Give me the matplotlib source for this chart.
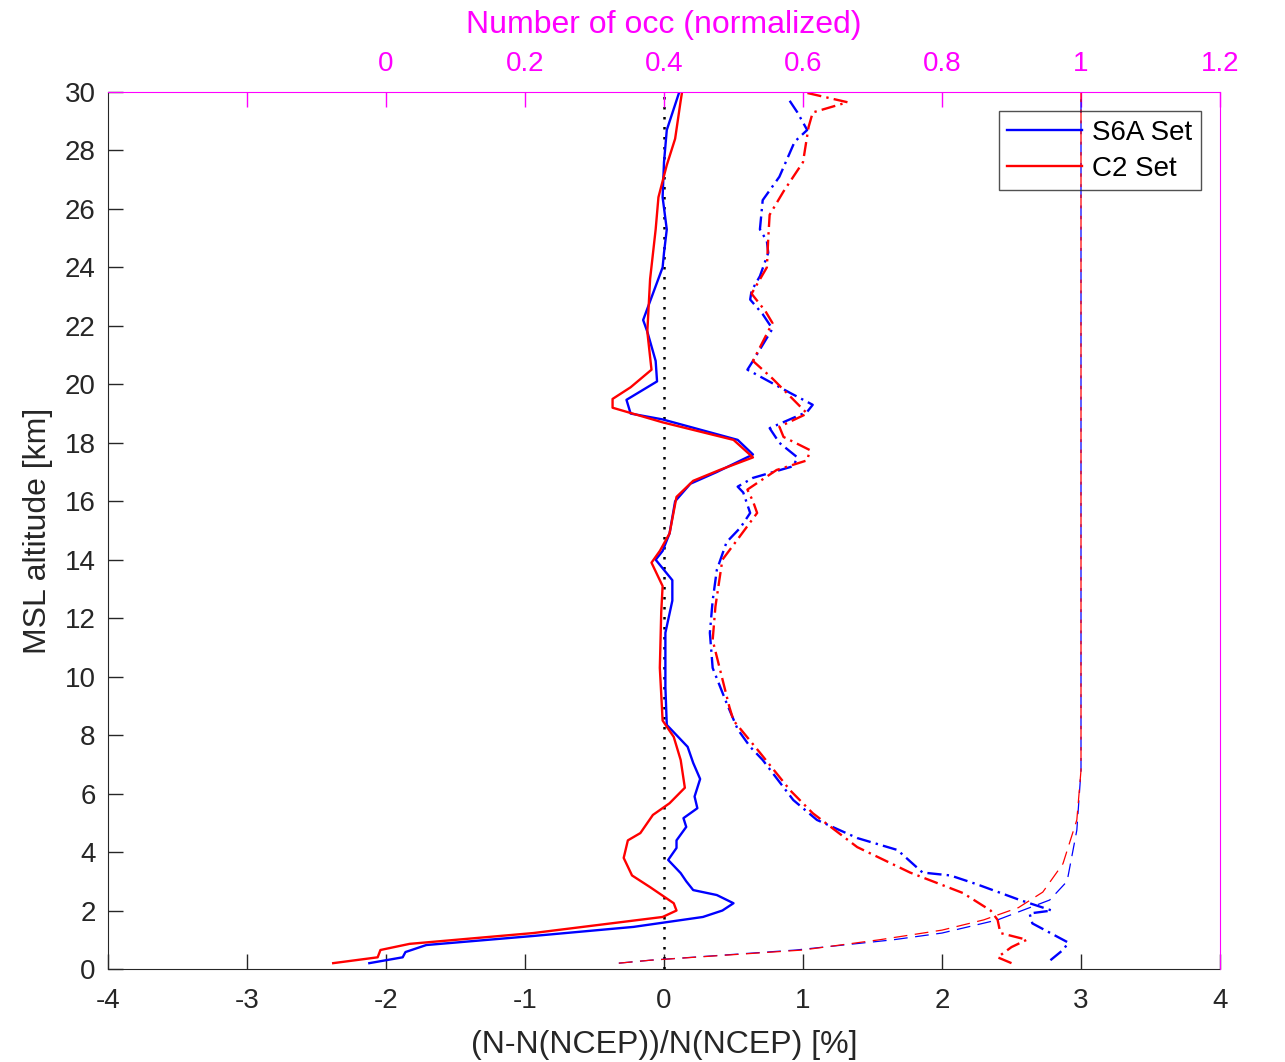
import numpy as np
import matplotlib
matplotlib.use('Agg')
import matplotlib.pyplot as plt
from matplotlib.lines import Line2D

plt.rcParams['font.family'] = ['Liberation Sans', 'DejaVu Sans']
plt.rcParams['axes.unicode_minus'] = False

# mean bias, S6A (blue solid)
s6a_alt = [0.2, 0.4, 0.58, 0.82, 1.13, 1.44, 1.78, 2.0, 2.25, 2.53, 2.7, 3.0, 3.28, 3.73, 4.14,
           4.4, 4.86, 5.16, 5.5, 5.9, 6.5, 7.05, 7.6, 8.35, 9.65, 11.5, 12.6, 13.3, 14.0, 14.3,
           14.9, 16.0, 16.6, 17.0, 17.6, 18.1, 18.8, 19.0, 19.47, 20.1, 20.8, 21.8, 22.2, 23.1,
           24.0, 24.5, 25.3, 26.4, 27.6, 28.7, 30.0]
s6a_mean = [-2.12, -1.88, -1.86, -1.71, -0.94, -0.22, 0.28, 0.42, 0.50, 0.38, 0.21, 0.16, 0.12,
            0.03, 0.09, 0.09, 0.16, 0.14, 0.24, 0.22, 0.26, 0.21, 0.17, 0.02, 0.01, 0.01, 0.06,
            0.06, -0.06, -0.01, 0.04, 0.08, 0.19, 0.38, 0.64, 0.53, -0.01, -0.24, -0.27, -0.05,
            -0.06, -0.12, -0.15, -0.08, -0.01, 0.0, 0.02, -0.01, 0.0, 0.02, 0.11]

# mean bias, C2 (red solid)
c2_alt = [0.2, 0.4, 0.65, 0.86, 1.23, 1.78, 2.0, 2.25, 2.8, 3.2, 3.8, 4.4, 4.65, 5.27, 5.67,
          6.2, 7.15, 7.94, 8.5, 10.3, 12.2, 13.1, 13.9, 14.3, 14.9, 16.15, 16.7, 17.07, 17.5,
          18.1, 18.7, 19.2, 19.5, 19.9, 20.5, 21.8, 23.6, 25.3, 26.4, 27.5, 28.4, 29.7, 30.0]
c2_mean = [-2.38, -2.06, -2.04, -1.83, -0.94, -0.01, 0.09, 0.07, -0.10, -0.23, -0.29, -0.26,
           -0.17, -0.08, 0.04, 0.15, 0.12, 0.07, -0.01, -0.03, -0.02, -0.01, -0.09, -0.03, 0.04,
           0.09, 0.21, 0.40, 0.64, 0.50, -0.01, -0.37, -0.37, -0.24, -0.09, -0.12, -0.10, -0.06,
           -0.04, 0.02, 0.08, 0.12, 0.13]

# std, S6A (blue dash-dot)
s6a_std_alt = [0.3, 0.65, 0.9, 1.56, 1.9, 2.0, 2.36, 2.9, 3.2, 3.3, 4.07, 4.48, 5.1, 5.78, 7.15,
               7.6, 8.2, 9.1, 10.3, 11.5, 12.6, 13.65, 14.6, 15.1, 15.6, 16.3, 16.5, 16.8, 17.2,
               17.5, 18.0, 18.5, 19.06, 19.3, 19.7, 20.4, 20.5, 20.8, 21.9, 22.4, 22.9, 23.2,
               23.7, 24.5, 24.9, 25.3, 26.3, 27.1, 28.3, 28.7, 29.3, 29.8]
s6a_std = [2.78, 2.87, 2.91, 2.65, 2.63, 2.79, 2.56, 2.25, 2.06, 1.86, 1.68, 1.39, 1.10, 0.93,
           0.71, 0.62, 0.53, 0.45, 0.35, 0.33, 0.35, 0.38, 0.45, 0.55, 0.62, 0.57, 0.53, 0.64,
           0.93, 0.96, 0.83, 0.76, 1.03, 1.07, 0.91, 0.64, 0.60, 0.64, 0.78, 0.71, 0.62, 0.63,
           0.69, 0.75, 0.74, 0.69, 0.71, 0.83, 0.94, 1.03, 0.96, 0.89]

# std, C2 (red dash-dot)
c2_std_alt = [0.2, 0.4, 0.75, 1.0, 1.23, 1.68, 2.0, 2.6, 3.3, 4.17, 5.33, 6.1, 7.4, 8.5, 8.97,
              11.25, 12.4, 14.0, 14.7, 15.6, 16.0, 16.4, 17.07, 17.4, 17.75, 18.2, 18.55, 19.0,
              20.2, 20.8, 22.1, 22.5, 23.1, 24.0, 25.0, 25.8, 26.6, 27.6, 28.8, 29.3, 29.65, 30.0]
c2_std = [2.50, 2.40, 2.50, 2.61, 2.42, 2.40, 2.35, 2.15, 1.77, 1.39, 1.07, 0.91, 0.69, 0.50,
          0.47, 0.35, 0.37, 0.42, 0.53, 0.67, 0.64, 0.60, 0.81, 1.03, 1.05, 0.86, 0.83, 1.03,
          0.78, 0.64, 0.78, 0.73, 0.63, 0.74, 0.75, 0.76, 0.86, 1.0, 1.04, 1.07, 1.32, 1.0]

# normalized number of occultations (top axis)
s6a_occ_alt = [0.2, 0.3, 0.65, 1.0, 1.23, 1.68, 2.36, 3.0, 4.75, 6.8, 30.0]
s6a_occ = [0.335, 0.38, 0.59, 0.73, 0.80, 0.88, 0.955, 0.98, 0.994, 1.0, 1.0]
c2_occ_alt = [0.2, 0.3, 0.65, 1.0, 1.33, 1.68, 2.1, 2.63, 3.6, 5.1, 6.8, 30.0]
c2_occ = [0.335, 0.38, 0.60, 0.71, 0.80, 0.86, 0.91, 0.945, 0.974, 0.994, 1.0, 1.0]

fs = 20
lfs = 23
dark = '#262626'
mag = (1, 0, 1)

fig = plt.figure(figsize=(12.85, 10.62), dpi=100)
ax = fig.add_axes([108/1285, 1 - 969/1062, 1112/1285, 877/1062])

ax.axvline(0, color='k', lw=1.8, ls=(0, (1, 3)))
ax.plot(s6a_mean, s6a_alt, color='b', lw=1.7)
ax.plot(c2_mean, c2_alt, color='r', lw=1.7)
ax.plot(s6a_std, s6a_std_alt, color='b', lw=1.7, ls=(0, (6, 2.2, 1, 2.2)))
ax.plot(c2_std, c2_std_alt, color='r', lw=1.7, ls=(0, (6, 2.2, 1, 2.2)))

ax.set_xlim(-4, 4)
ax.set_ylim(0, 30)
ax.set_xticks(np.arange(-4, 5, 1))
ax.set_yticks(np.arange(0, 31, 2))
ax.tick_params(direction='in', length=11, width=1, colors=dark, labelsize=fs,
               top=False, right=False)
ax.tick_params(axis='x', pad=14)
ax.tick_params(axis='y', pad=9)
for s in ['left', 'bottom']:
    ax.spines[s].set_color(dark)
for s in ['top', 'right']:
    ax.spines[s].set_visible(False)
ax.set_xlabel('(N-N(NCEP))/N(NCEP) [%]', fontsize=lfs, color=dark, labelpad=11)
ax.set_ylabel('MSL altitude [km]', fontsize=lfs, color=dark, labelpad=8)

ax2 = ax.twiny()
ax2.plot(s6a_occ, s6a_occ_alt, color='b', lw=0.9, ls=(0, (11, 6)))
ax2.plot(c2_occ, c2_occ_alt, color='r', lw=0.9, ls=(0, (11, 6)))
ax2.set_xlim(-0.4, 1.2)
ax2.set_ylim(0, 30)
ax2.set_xticks(np.round(np.arange(-0.2, 1.21, 0.2), 1))
ax2.set_xticklabels([''] + ['0', '0.2', '0.4', '0.6', '0.8', '1', '1.2'])
ax2.yaxis.set_ticks_position('right')
ax2.yaxis.set_label_position('right')
ax2.set_yticks(np.arange(0, 31, 2))
ax2.tick_params(direction='in', length=11, width=1, colors=mag, labelsize=fs,
                left=False, bottom=False, labelleft=False, labelbottom=False,
                right=True, labelright=True, top=True, labeltop=True)
ax2.tick_params(axis='x', pad=11)
ax2.tick_params(axis='y', pad=12)
for s in ['top', 'right']:
    ax2.spines[s].set_color(mag)
for s in ['left', 'bottom']:
    ax2.spines[s].set_visible(False)
ax2.set_xlabel('Number of occ (normalized)', fontsize=lfs, color=mag, labelpad=13)

handles = [Line2D([], [], color='b', lw=1.7), Line2D([], [], color='r', lw=1.7)]
leg = ax2.legend(handles, ['S6A Set', 'C2 Set'], loc='upper right', fontsize=fs,
                 frameon=True, fancybox=False, facecolor='none', edgecolor=dark,
                 borderaxespad=0.7, borderpad=0.3, handlelength=2.7,
                 handletextpad=0.35, labelspacing=0.35)
leg.get_frame().set_linewidth(1.0)
for t in leg.get_texts():
    t.set_color('k')

fig.savefig('out.png', dpi=100)
